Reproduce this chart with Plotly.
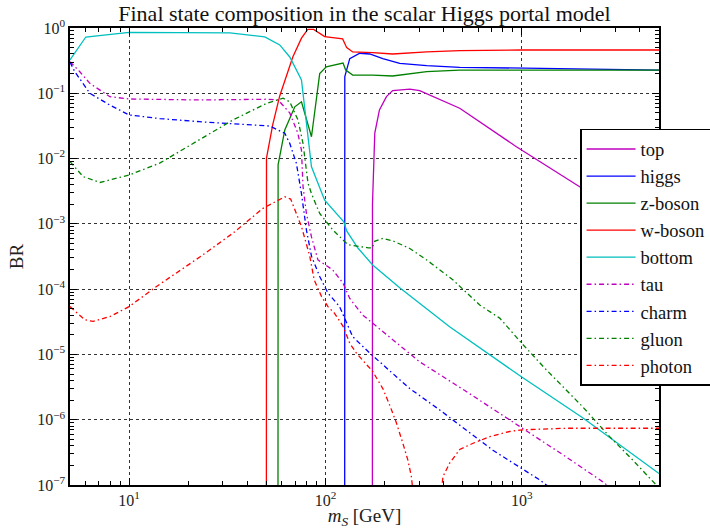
import plotly.graph_objects as go

# ---------------- data ----------------
top_x = [173.4, 173.6, 178.4, 188.4, 204.5, 220, 269, 302, 483, 939, 1972, 5000]
top_y = [1e-9, 2e-3, 0.0245, 0.0556, 0.089, 0.11, 0.116, 0.11, 0.059, 0.0152, 0.0037, 6e-4]

higgs_x = [125.3, 125.5, 133, 149.6, 168, 196, 239, 328, 483, 1000, 5000]
higgs_y = [1e-9, 0.18, 0.34, 0.41, 0.40, 0.34, 0.288, 0.265, 0.25, 0.241, 0.227]

z_x = [57.3, 57.4, 62.1, 69.8, 75.5, 84.9, 93.5, 101, 122.9, 126.8, 137.7, 174, 220, 328, 483, 1000, 5000]
z_y = [1e-9, 0.008, 0.0274, 0.062, 0.074, 0.0216, 0.20, 0.255, 0.29, 0.227, 0.19, 0.19, 0.184, 0.214, 0.227, 0.227, 0.227]

w_x = [50.0, 50.1, 53.9, 58.5, 68.2, 75.5, 81.3, 87.1, 99.1, 122.4, 128.3, 137.7, 174, 220, 328, 483, 1000, 5000]
w_y = [1e-9, 0.0102, 0.033, 0.091, 0.36, 0.70, 0.95, 0.95, 0.74, 0.68, 0.50, 0.43, 0.42, 0.40, 0.43, 0.45, 0.46, 0.46]

bottom_x = [5, 6.02, 10, 32.6, 49.1, 58.5, 65.8, 75.5, 84.9, 99.1, 124, 128.3, 146, 174, 239, 429, 1000, 2042, 5000]
bottom_y = [0.324, 0.728, 0.86, 0.84, 0.73, 0.55, 0.36, 0.16, 0.0075, 0.0023, 0.00107, 7.8e-4, 4.3e-4, 2.35e-4, 1.05e-4, 2.66e-5, 4.5e-6, 1.07e-6, 1.5e-7]

tau_x = [5, 5.61, 6.31, 7.98, 10, 22.9, 50.1, 57.4, 65.8, 72.3, 75.5, 76.9, 80, 84.9, 91.6, 108.9, 123, 133, 155, 182, 220, 302, 522, 902, 1622, 2643, 3500]
tau_y = [0.305, 0.214, 0.142, 0.0887, 0.0818, 0.079, 0.081, 0.079, 0.050, 0.0247, 0.0135, 0.0037, 0.00145, 6.3e-4, 2.8e-4, 1.97e-4, 1.23e-4, 7.2e-5, 4.0e-5, 2.67e-5, 1.66e-5, 7.7e-6, 2.7e-6, 9.3e-7, 2.9e-7, 1.07e-7, 5e-8]

charm_x = [5, 5.29, 6.31, 7.98, 10, 14.3, 22.9, 36.6, 52, 62.1, 65.8, 71.1, 75.5, 80, 84.9, 93.5, 103, 118, 128.3, 137.7, 168, 196, 269, 382, 522, 713, 1233, 1800]
charm_y = [0.30, 0.214, 0.1, 0.066, 0.0466, 0.041, 0.0367, 0.0339, 0.0315, 0.0244, 0.0171, 0.0085, 0.0029, 8.1e-4, 3.2e-4, 1.56e-4, 8.7e-5, 5.4e-5, 3.0e-5, 1.87e-5, 1.05e-5, 6.9e-6, 3.0e-6, 1.41e-6, 6.9e-7, 3.4e-7, 1.2e-7, 5e-8]

gluon_x = [5, 5.83, 7.1, 10, 14.3, 22.9, 33.8, 50.1, 60.8, 65.8, 72.5, 76.9, 81.5, 84.9, 93.5, 109, 130, 165, 173.4, 178, 196, 220, 269, 328, 447, 611, 772, 1000, 1334, 2042, 2803, 3681, 4754, 5000]
gluon_y = [0.0090, 0.0053, 0.0043, 0.0056, 0.0085, 0.0193, 0.039, 0.070, 0.084, 0.074, 0.039, 0.017, 0.0042, 0.0029, 0.00144, 8.1e-4, 4.8e-4, 4.3e-4, 4.3e-4, 5.4e-4, 6.0e-4, 5.5e-4, 4.2e-4, 2.8e-4, 1.38e-4, 5.7e-5, 3.6e-5, 1.48e-5, 5.8e-6, 1.58e-6, 5.5e-7, 2.4e-7, 1.07e-7, 9e-8]

photon_x = [5, 5.95, 6.56, 7.98, 10, 13.8, 22.9, 33.8, 48.1, 62.1, 66.5, 75.5, 83.2, 87.7, 95.5, 103, 111, 123, 133, 144, 174, 196, 212, 230, 248, 263, 274, 300, 330, 360, 397, 429, 483, 565, 687, 867, 1000, 1686, 5000]
photon_y = [5.4e-5, 3.4e-5, 3.2e-5, 3.8e-5, 5.4e-5, 1.1e-4, 3.1e-4, 7.2e-4, 1.73e-3, 2.6e-3, 2.4e-3, 9.1e-4, 3.2e-4, 1.38e-4, 7.7e-5, 5.4e-5, 4.3e-5, 2.7e-5, 1.48e-5, 1.04e-5, 5.5e-6, 3.0e-6, 1.7e-6, 8.9e-7, 4.35e-7, 2.4e-7, 1.35e-7, 1e-8, 1e-10, 1e-8, 1.35e-7, 2.16e-7, 3.5e-7, 4.36e-7, 5.5e-7, 6.6e-7, 7.0e-7, 7.4e-7, 7.4e-7]

series = [
    ("top", top_x, top_y, "#bf00bf", "solid"),
    ("higgs", higgs_x, higgs_y, "#0000ff", "solid"),
    ("z-boson", z_x, z_y, "#008000", "solid"),
    ("w-boson", w_x, w_y, "#ff0000", "solid"),
    ("bottom", bottom_x, bottom_y, "#00bfbf", "solid"),
    ("tau", tau_x, tau_y, "#bf00bf", "dashdot"),
    ("charm", charm_x, charm_y, "#0000ff", "dashdot"),
    ("gluon", gluon_x, gluon_y, "#008000", "dashdot"),
    ("photon", photon_x, photon_y, "#ff0000", "dashdot"),
]

x_tickvals = [10, 100, 1000]
x_ticktext = ["10<sup>1</sup>", "10<sup>2</sup>", "10<sup>3</sup>"]
y_tickvals = [1e-7, 1e-6, 1e-5, 1e-4, 1e-3, 1e-2, 1e-1, 1]
y_ticktext = ["10<sup>\u22127</sup>", "10<sup>\u22126</sup>", "10<sup>\u22125</sup>", "10<sup>\u22124</sup>",
              "10<sup>\u22123</sup>", "10<sup>\u22122</sup>", "10<sup>\u22121</sup>", "10<sup>0</sup>"]

FONT = "Liberation Serif"

fig = go.Figure()
for name, xs, ys, col, style in series:
    dash = "solid" if style == "solid" else "5px,3px,1.5px,3px"
    fig.add_trace(go.Scatter(x=xs, y=ys, mode="lines", name=name,
                             line=dict(color=col, width=1.3, dash=dash)))

x_minor = [m * 10 ** k for k in range(0, 4) for m in range(2, 10) if 5 <= m * 10 ** k <= 5000]
y_minor = [m * 10.0 ** k for k in range(-7, 0) for m in range(2, 10)]

axis_common = dict(type="log", showline=True, linecolor="black", linewidth=1.5, mirror="allticks",
                   ticks="inside", ticklen=7, tickwidth=1, tickcolor="black", automargin=False,
                   showgrid=True, gridcolor="#333", griddash="dot", gridwidth=1,
                   zeroline=False, tickfont=dict(family=FONT, size=16, color="#222"))

fig.update_xaxes(range=[0.69897, 3.69897], tickmode="array", tickvals=x_tickvals, ticktext=x_ticktext,
                 minor=dict(tickvals=x_minor, ticks="inside", ticklen=4, tickcolor="black", showgrid=False),
                 title=dict(text="<i>m</i><sub><i>S</i></sub> [GeV]", font=dict(family=FONT, size=19, color="#222"),
                            standoff=2),
                 **axis_common)
fig.update_yaxes(range=[-7, 0], tickmode="array", tickvals=y_tickvals, ticktext=y_ticktext,
                 minor=dict(tickvals=y_minor, ticks="inside", ticklen=4, tickcolor="black", showgrid=False),
                 title=dict(text="BR", font=dict(family=FONT, size=19, color="#222"), standoff=8),
                 **axis_common)

fig.update_layout(
    width=710, height=529,
    margin=dict(l=70, r=51, t=28, b=44, autoexpand=False),
    paper_bgcolor="white", plot_bgcolor="white",
    hovermode=False,
    title=dict(text="Final state composition in the scalar Higgs portal model",
               font=dict(family=FONT, size=22, color="#111"), xref="paper", x=0.5, xanchor="center",
               y=0.974, yanchor="middle"),
    legend=dict(x=0.866, y=0.779, xanchor="left", yanchor="top", bgcolor="white",
                bordercolor="black", borderwidth=1.5, font=dict(family=FONT, size=18.5, color="#111"),
                itemwidth=49, tracegroupgap=0),
    font=dict(family=FONT),
)

fig.write_html("out.html", config=dict(displayModeBar=False),
               post_script="document.body.style.margin='0px';")
